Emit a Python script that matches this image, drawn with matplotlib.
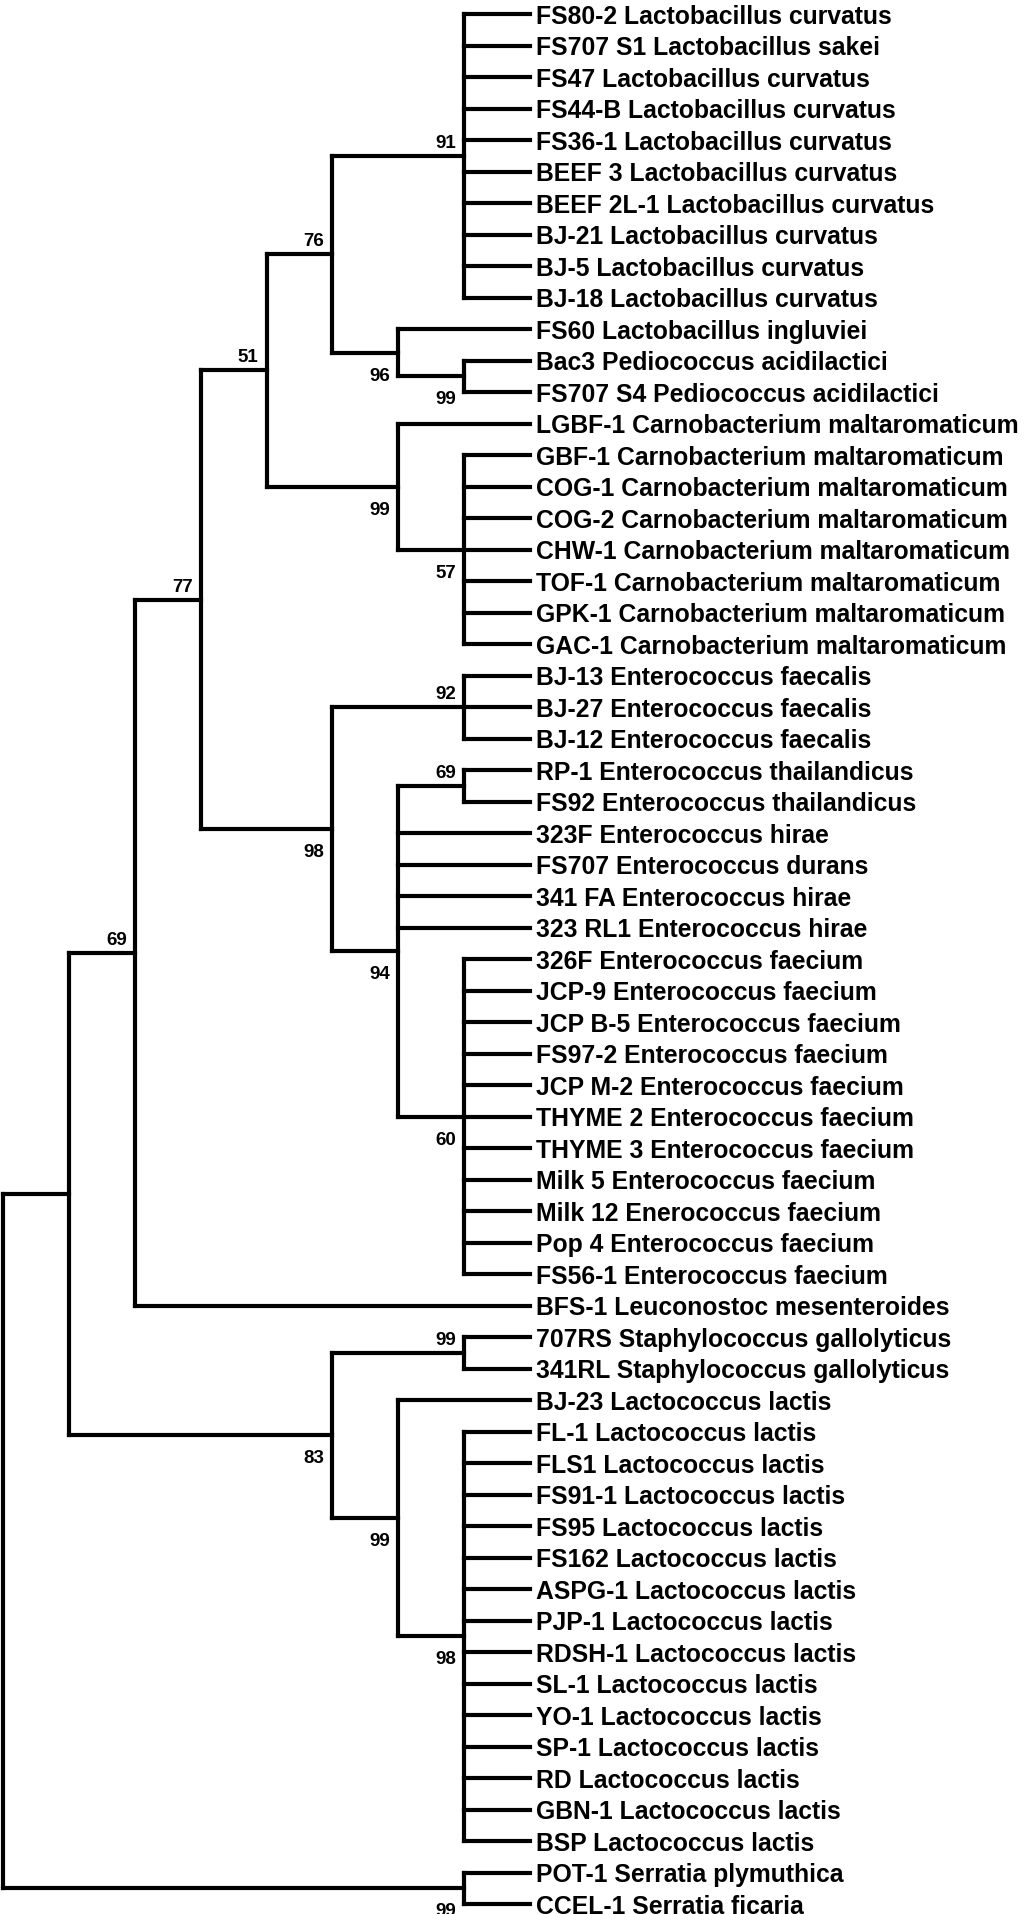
import matplotlib
matplotlib.use("Agg")
import matplotlib.pyplot as plt
from matplotlib.collections import LineCollection

# leaf labels, top to bottom
leaves = [
    "FS80-2 Lactobacillus curvatus",
    "FS707 S1 Lactobacillus sakei",
    "FS47 Lactobacillus curvatus",
    "FS44-B Lactobacillus curvatus",
    "FS36-1 Lactobacillus curvatus",
    "BEEF 3 Lactobacillus curvatus",
    "BEEF 2L-1 Lactobacillus curvatus",
    "BJ-21 Lactobacillus curvatus",
    "BJ-5 Lactobacillus curvatus",
    "BJ-18 Lactobacillus curvatus",
    "FS60 Lactobacillus ingluviei",
    "Bac3 Pediococcus acidilactici",
    "FS707 S4 Pediococcus acidilactici",
    "LGBF-1 Carnobacterium maltaromaticum",
    "GBF-1 Carnobacterium maltaromaticum",
    "COG-1 Carnobacterium maltaromaticum",
    "COG-2 Carnobacterium maltaromaticum",
    "CHW-1 Carnobacterium maltaromaticum",
    "TOF-1 Carnobacterium maltaromaticum",
    "GPK-1 Carnobacterium maltaromaticum",
    "GAC-1 Carnobacterium maltaromaticum",
    "BJ-13 Enterococcus faecalis",
    "BJ-27 Enterococcus faecalis",
    "BJ-12 Enterococcus faecalis",
    "RP-1 Enterococcus thailandicus",
    "FS92 Enterococcus thailandicus",
    "323F Enterococcus hirae",
    "FS707 Enterococcus durans",
    "341 FA Enterococcus hirae",
    "323 RL1 Enterococcus hirae",
    "326F Enterococcus faecium",
    "JCP-9 Enterococcus faecium",
    "JCP B-5 Enterococcus faecium",
    "FS97-2 Enterococcus faecium",
    "JCP M-2 Enterococcus faecium",
    "THYME 2 Enterococcus faecium",
    "THYME 3 Enterococcus faecium",
    "Milk 5 Enterococcus faecium",
    "Milk 12 Enerococcus faecium",
    "Pop 4 Enterococcus faecium",
    "FS56-1 Enterococcus faecium",
    "BFS-1 Leuconostoc mesenteroides",
    "707RS Staphylococcus gallolyticus",
    "341RL Staphylococcus gallolyticus",
    "BJ-23 Lactococcus lactis",
    "FL-1 Lactococcus lactis",
    "FLS1 Lactococcus lactis",
    "FS91-1 Lactococcus lactis",
    "FS95 Lactococcus lactis",
    "FS162 Lactococcus lactis",
    "ASPG-1 Lactococcus lactis",
    "PJP-1 Lactococcus lactis",
    "RDSH-1 Lactococcus lactis",
    "SL-1 Lactococcus lactis",
    "YO-1 Lactococcus lactis",
    "SP-1 Lactococcus lactis",
    "RD Lactococcus lactis",
    "GBN-1 Lactococcus lactis",
    "BSP Lactococcus lactis",
    "POT-1 Serratia plymuthica",
    "CCEL-1 Serratia ficaria",
]

# topology: (bootstrap, [children]); ints are leaf indices
clade_curvatus = (91, list(range(0, 10)))
clade_pedio = (96, [10, (99, [11, 12])])
clade_carno = (99, [13, (57, list(range(14, 21)))])
clade_faecalis = (92, [21, 22, 23])
clade_entero = (94, [(69, [24, 25]), 26, 27, 28, 29, (60, list(range(30, 41)))])
clade_lacto = (83, [(99, [42, 43]), (99, [44, (98, list(range(45, 59)))])])

tree = (None, [
    (None, [
        (69, [
            (77, [
                (51, [(76, [clade_curvatus, clade_pedio]), clade_carno]),
                (98, [clade_faecalis, clade_entero]),
            ]),
            41,
        ]),
        clade_lacto,
    ]),
    (99, [59, 60]),
])

segs = []
supports = []  # (x, y, text, above)


def layout(node):
    """Return (x, y, height) of a node and collect its line segments."""
    if isinstance(node, int):
        return 0.0, float(node), 0
    boot, children = node
    placed = [layout(c) for c in children]
    height = 1 + max(p[2] for p in placed)
    x = -float(height)
    y = (placed[0][1] + placed[-1][1]) / 2
    segs.append([(x, placed[0][1]), (x, placed[-1][1])])
    for i, (c, (cx, cy, ch)) in enumerate(zip(children, placed)):
        segs.append([(x, cy), (cx, cy)])
        if not isinstance(c, int) and c[0] is not None:
            supports.append((cx, cy, str(c[0]), i == 0))
    return x, y, height


root_x, root_y, _ = layout(tree)

W, H = 1024, 1914
fig = plt.figure(figsize=(W / 100, H / 100), dpi=100)
ax = fig.add_axes([0, 0, 1, 1])
ax.set_axis_off()

# pixel calibration: tips at 530 px, root at 3 px, leaves every 31.5 px from 14 px
step = (530 - 3) / 8.0
ax.set_xlim(-8 - 3 / step, (W - 530) / step)
ax.set_ylim((H - 14) / 31.5, -14 / 31.5)

lc = LineCollection(segs, colors="black", linewidths=3.0, capstyle="projecting")
ax.add_collection(lc)

for i, name in enumerate(leaves):
    ax.annotate(name, xy=(0, i), xytext=(6, 0), textcoords="offset pixels",
                ha="left", va="center_baseline", fontsize=17.8,
                fontweight="bold", family="Liberation Sans", color="black")

for x, y, txt, above in supports:
    dy = 8 if above else -28
    ax.annotate(txt, xy=(x, y), xytext=(-8, dy), textcoords="offset pixels",
                ha="right", va="baseline", fontsize=13.5,
                fontweight="bold", family="Liberation Sans", color="black")

fig.savefig("out.png", dpi=100, facecolor="white")
